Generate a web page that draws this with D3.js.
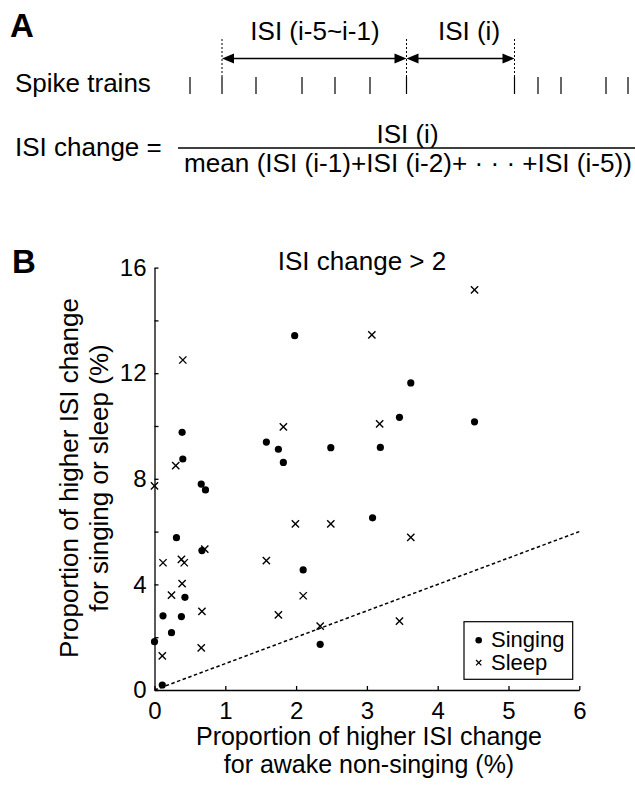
<!DOCTYPE html>
<html>
<head>
<meta charset="utf-8">
<script src="https://cdn.jsdelivr.net/npm/d3@7"></script>
<style>
  body { margin: 0; background: #fff; }
  svg { display: block; font-family: "Liberation Sans", Arial, sans-serif; }
  .axis path, .axis line { stroke: #000; stroke-width: 1.3px; }
  .axis text { font-size: 24px; fill: #000; font-family: "Liberation Sans", Arial, sans-serif; }
</style>
</head>
<body>
<div id="chart-area"></div>
<script>
// SVG size
var width = 635,
	height = 786;

// Panel A: spike times of the schematic train (same units as the page width)
var spikeTimes = [190, 222, 256, 302, 335, 370, 406.5, 514.5, 538, 561, 606, 628];
var markedSpikes = [222, 406.5, 514.5];   // i-5, i-1, i

// Panel B: proportion of higher ISI change (%)
var singingX = [1.98, 0.39, 0.40, 1.58, 1.75, 1.82, 2.49, 3.19, 3.62, 3.46, 4.52, 0.66,
	0.72, 0.31, 0.67, 3.08, 2.10, 0.43, 0.12, 0.38, 0.24, 2.34, 0.00, 0.11];
var singingY = [13.42, 9.76, 8.75, 9.39, 9.12, 8.62, 9.18, 9.19, 11.63, 10.33, 10.16, 7.80,
	7.58, 5.77, 5.28, 6.52, 4.55, 3.51, 2.81, 2.78, 2.17, 1.73, 1.83, 0.19];
var sleepX = [0.40, 3.07, 1.82, 3.18, 0.30, 4.52, 0.00, 0.12, 0.38, 0.42, 0.71, 1.58,
	1.99, 2.49, 0.39, 0.24, 2.10, 0.67, 1.75, 2.34, 0.11, 0.66, 3.62, 3.46];
var sleepY = [12.50, 13.45, 9.97, 10.08, 8.50, 15.16, 7.73, 4.82, 4.95, 4.82, 5.34, 4.90,
	6.29, 6.29, 4.03, 3.59, 3.57, 2.98, 2.85, 2.42, 1.29, 1.60, 5.78, 2.61];
var xTicks = [0, 1, 2, 3, 4, 5, 6];
var yTicks = [0, 2, 4, 6, 8, 10, 12, 14, 16];
var diagonal = [0, 6];   // y = x reference

var svg = d3.select("#chart-area")
		.append("svg")
		.attr("width", width)
		.attr("height", height);

function label(x, y, str, size, anchor, weight){
	return svg.append("text")
			.attr("x", x)
			.attr("y", y)
			.attr("font-size", size)
			.attr("font-weight", weight || "normal")
			.attr("text-anchor", anchor || "start")
			.text(str);
}

// ---------- Panel A ----------
label(10, 37, "A", 33, "start", "bold");

var tScale = d3.scaleLinear().domain([0, width]).range([0, width]);

svg.selectAll("line.spike")
		.data(spikeTimes)
		.enter()
		.append("line")
		.attr("class", "spike")
		.attr("x1", d => tScale(d)).attr("x2", d => tScale(d))
		.attr("y1", 77).attr("y2", 94)
		.attr("stroke", "#000")
		.attr("stroke-width", 1.2);

svg.selectAll("line.mark")
		.data(markedSpikes)
		.enter()
		.append("line")
		.attr("class", "mark")
		.attr("x1", d => tScale(d)).attr("x2", d => tScale(d))
		.attr("y1", 39).attr("y2", 77)
		.attr("stroke", "#000")
		.attr("stroke-width", 1)
		.attr("stroke-dasharray", "2,2");

// double headed arrows between the marked spikes
function arrow(a, b, y){
	var x1 = tScale(a), x2 = tScale(b), L = 12, w = 5;
	svg.append("line")
			.attr("x1", x1 + 4).attr("x2", x2 - 4)
			.attr("y1", y).attr("y2", y)
			.attr("stroke", "#000").attr("stroke-width", 1.6);
	svg.append("path")
			.attr("d", "M" + x1 + "," + y + "L" + (x1 + L) + "," + (y - w) + "L" + (x1 + L) + "," + (y + w) + "Z")
			.attr("fill", "#000");
	svg.append("path")
			.attr("d", "M" + x2 + "," + y + "L" + (x2 - L) + "," + (y - w) + "L" + (x2 - L) + "," + (y + w) + "Z")
			.attr("fill", "#000");
}
arrow(markedSpikes[0], markedSpikes[1], 58.5);
arrow(markedSpikes[1], markedSpikes[2], 58.5);

label(315, 39.5, "ISI (i-5~i-1)", 26, "middle");
label(469, 39.5, "ISI (i)", 26, "middle");
label(15, 92, "Spike trains", 26);

label(15, 156, "ISI change =", 26);
label(407.5, 142.5, "ISI (i)", 26, "middle");
svg.append("line")
		.attr("x1", 178).attr("x2", 637)
		.attr("y1", 148).attr("y2", 148)
		.attr("stroke", "#000").attr("stroke-width", 1.4);
label(408, 172, "mean (ISI (i-1)+ISI (i-2)+ \u00b7 \u00b7 \u00b7 +ISI (i-5))", 26, "middle")
		.attr("textLength", 448).attr("lengthAdjust", "spacingAndGlyphs");

// ---------- Panel B ----------
label(12, 273, "B", 33, "start", "bold");

var xScale = d3.scaleLinear().domain([0, 6]).range([154.5, 579.3]);
var yScale = d3.scaleLinear().domain([0, 16]).range([690, 267.6]);

var xAxis = d3.axisBottom(xScale)
		.tickValues(xTicks)
		.tickSizeInner(-4)
		.tickSizeOuter(0)
		.tickPadding(12)
		.tickFormat(d3.format("d"));

var yAxis = d3.axisLeft(yScale)
		.tickValues(yTicks)
		.tickSizeInner(-4)
		.tickSizeOuter(0)
		.tickPadding(8)
		.tickFormat(d => d % 4 === 0 ? d : "");

svg.append("g")
		.attr("class", "axis x-axis")
		.attr("transform", "translate(0," + yScale(0) + ")")
		.call(xAxis);

svg.append("g")
		.attr("class", "axis y-axis")
		.attr("transform", "translate(" + xScale(0) + ",0)")
		.call(yAxis);

// y = x dashed line
svg.append("line")
		.attr("x1", xScale(diagonal[0])).attr("y1", yScale(diagonal[0]))
		.attr("x2", xScale(diagonal[1])).attr("y2", yScale(diagonal[1]))
		.attr("stroke", "#000")
		.attr("stroke-width", 1.5)
		.attr("stroke-dasharray", "3.5,2.5");

var singing = singingX.map((d, i) => ({x: d, y: singingY[i]}));
var sleep = sleepX.map((d, i) => ({x: d, y: sleepY[i]}));

svg.append("g").selectAll("circle")
		.data(singing)
		.enter()
		.append("circle")
		.attr("cx", d => xScale(d.x))
		.attr("cy", d => yScale(d.y))
		.attr("r", 3.6)
		.attr("fill", "#000");

var cross = d3.symbol().type(d3.symbolX).size(36);
svg.append("g").selectAll("path")
		.data(sleep)
		.enter()
		.append("path")
		.attr("d", cross)
		.attr("transform", d => "translate(" + xScale(d.x) + "," + yScale(d.y) + ")")
		.attr("fill", "none")
		.attr("stroke", "#000")
		.attr("stroke-width", 1.4);

label(362, 270, "ISI change > 2", 26, "middle");

// axis names
label(369, 745, "Proportion of higher ISI change", 25, "middle");
label(369, 773, "for awake non-singing (%)", 25, "middle");

svg.append("text")
		.attr("transform", "translate(78,478) rotate(-90)")
		.attr("text-anchor", "middle")
		.attr("font-size", 26)
		.text("Proportion of higher ISI change");
svg.append("text")
		.attr("transform", "translate(108,478) rotate(-90)")
		.attr("text-anchor", "middle")
		.attr("font-size", 26)
		.text("for singing or sleep (%)");

// legend
var legend = svg.append("g").attr("transform", "translate(464,621.7)");
legend.append("rect")
		.attr("width", 108.7).attr("height", 57.6)
		.attr("fill", "#fff").attr("stroke", "#000").attr("stroke-width", 1.2);
legend.append("circle")
		.attr("cx", 14.7).attr("cy", 18.5).attr("r", 3.3).attr("fill", "#000");
legend.append("path")
		.attr("d", d3.symbol().type(d3.symbolX).size(20)())
		.attr("transform", "translate(14.7,41)")
		.attr("fill", "none").attr("stroke", "#000").attr("stroke-width", 1.3);
legend.append("text").attr("x", 27).attr("y", 25).attr("font-size", 22).text("Singing");
legend.append("text").attr("x", 27).attr("y", 48).attr("font-size", 22).text("Sleep");
</script>
</body>
</html>
